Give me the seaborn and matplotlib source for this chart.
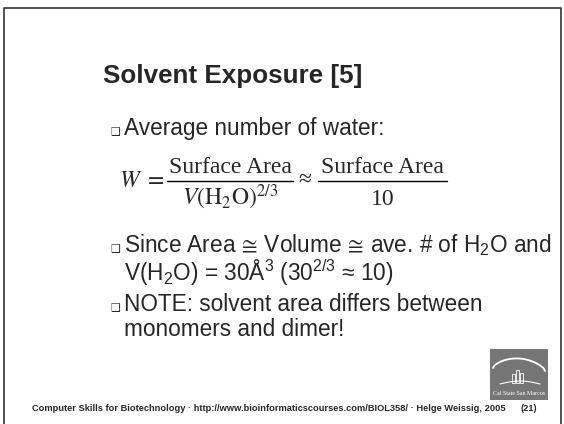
import numpy as np
import seaborn as sns
import matplotlib.pyplot as plt
from matplotlib.patches import Rectangle

# slide content
title = "Solvent Exposure [5]"
bullet_lines = [
    ["Average number of water:"],
    [r"Since Area$\,\cong\,$Volume$\,\cong\,$ave. # of H$_2$O and",
     r"V(H$_2$O) = 30Å$^3$ (30$^{2/3}$ ≈ 10)"],
    ["NOTE: solvent area differs between",
     "monomers and dimer!"],
]
eq_lhs = r"$W\ =$"
eq_num = ["Surface Area", "Surface Area"]
eq_den = [r"$V(\mathrm{H_2O})^{2/3}$", "10"]
footer = ("Computer Skills for Biotechnology · http://www.bioinformaticscourses.com/BIOL358/ "
          "· Helge Weissig, 2005")
page = "(21)"
logo_text = "Cal State San Marcos"

sns.set_theme(style="white")
plt.rcParams['font.family'] = ['Liberation Sans', 'DejaVu Sans']
plt.rcParams['mathtext.fontset'] = 'custom'
plt.rcParams['mathtext.rm'] = 'Liberation Sans'
plt.rcParams['mathtext.it'] = 'Liberation Sans:italic'
plt.rcParams['mathtext.bf'] = 'Liberation Sans:bold'
plt.rcParams['mathtext.fallback'] = 'stixsans'

fig = plt.figure(figsize=(5.64, 4.24), dpi=100)
ax = fig.add_axes([0, 0, 1, 1])
ax.set_xlim(0, 564)
ax.set_ylim(424, 0)
ax.axis("off")

# slide border
ax.plot([3.5, 3.5, 560.5, 560.5], [424, 7.5, 7.5, 424], color="#333333", lw=1.2)

ax.text(103, 83, title, fontsize=18.7, fontweight="bold", ha="left", va="baseline")

body_size = 16.3
text_x = 124
bullet_x = 110
baselines = [[135], [252, 281], [311, 336]]
for lines, ys in zip(bullet_lines, baselines):
    ax.text(bullet_x, ys[0] - 1, "❑", fontsize=7.8, family=["DejaVu Sans"], ha="left", va="baseline")
    for line, y in zip(lines, ys):
        ax.text(text_x, y, line, fontsize=body_size, ha="left", va="baseline")

# equation
eq_y = 181
serif = ["Liberation Serif", "DejaVu Serif"]
ax.text(119, eq_y + 6, eq_lhs, fontsize=17, ha="left", va="baseline", math_fontfamily="stix")
frac_x = [(167, 293), (318, 447)]
for (x0, x1), num, den in zip(frac_x, eq_num, eq_den):
    xc = (x0 + x1) / 2
    ax.plot([x0, x1], [eq_y, eq_y], color="black", lw=1.0)
    ax.text(xc, eq_y - 8, num, fontsize=17, family=serif, ha="center", va="baseline")
    ax.text(xc, eq_y + 24, den, fontsize=17, family=serif, ha="center", va="baseline",
            math_fontfamily="stix")
ax.text(305, eq_y + 5, "≈", fontsize=17, family=serif, ha="center", va="baseline")

# logo
ax.add_patch(Rectangle((490, 349), 58, 51, facecolor="#767676", edgecolor="none"))
t = np.linspace(0, 1, 40)
ax.plot(493 + 52 * t, 368 - 11 * np.sin(np.pi * t) ** 0.6 + 3 * t, color="white", lw=1.3)
ax.plot(500 + 40 * t, 384 - 3 * np.sin(np.pi * t), color="white", lw=0.8)
for bx, bh in zip([512, 516, 520], [9, 13, 10]):
    ax.add_patch(Rectangle((bx, 383 - bh), 3, bh, facecolor="none", edgecolor="white", lw=0.6))
ax.text(519, 395, logo_text, fontsize=4.3, color="white", family=serif, ha="center", va="baseline")

# footer
ax.text(32, 411, footer, fontsize=6.7, fontweight="bold", ha="left", va="baseline")
ax.text(537, 411, page, fontsize=6.7, fontweight="bold", ha="right", va="baseline")

fig.savefig("out.png", dpi=100, facecolor="white")
